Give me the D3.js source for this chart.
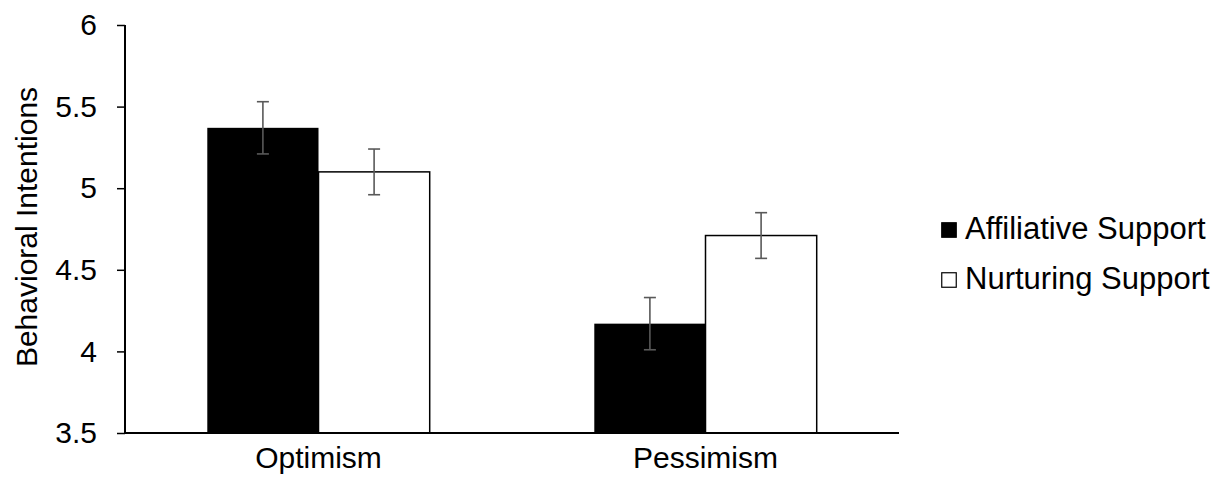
<!DOCTYPE html>
<html>
<head>
<meta charset="utf-8">
<title>Behavioral Intentions</title>
<script src="https://cdnjs.cloudflare.com/ajax/libs/d3/7.8.5/d3.min.js"></script>
<style>
    body { margin: 0; background: #fff; }
    svg text { font-family: Arial, "Liberation Sans", sans-serif; fill: #000; }
</style>
</head>
<body>
<div id="chart"></div>
<script>
    // data
    var categories = ["Optimism", "Pessimism"];
    var series = ["Affiliative Support", "Nurturing Support"];
    var affiliative = [5.37, 4.17];
    var nurturing = [5.10, 4.71];
    var affiliativeErr = [0.16, 0.16];
    var nurturingErr = [0.14, 0.14];
    var yTicks = [3.5, 4, 4.5, 5, 5.5, 6];

    var width = 1220,
        height = 484,
        plotLeft = 125, plotRight = 899, plotTop = 25, plotBottom = 433;

    var fills = { "Affiliative Support": "#000", "Nurturing Support": "#fff" };

    var rows = [];
    categories.forEach(function(c, i) {
        rows.push({ cat: c, s: series[0], v: affiliative[i], e: affiliativeErr[i] });
        rows.push({ cat: c, s: series[1], v: nurturing[i], e: nurturingErr[i] });
    });

    var svg = d3.select("#chart").append("svg")
        .attr("width", width)
        .attr("height", height);

    var x0 = d3.scaleBand().domain(categories).range([plotLeft, plotRight]);
    var x1 = d3.scaleBand().domain(series).range([0, x0.bandwidth()])
        .paddingInner(0).paddingOuter(0.74);
    var y = d3.scaleLinear().domain([3.5, 6]).range([plotBottom, plotTop]);

    // bars
    svg.selectAll("rect.bar")
        .data(rows)
        .enter().append("rect")
        .attr("class", "bar")
        .attr("x", function(d) { return x0(d.cat) + x1(d.s); })
        .attr("y", function(d) { return y(d.v); })
        .attr("width", x1.bandwidth())
        .attr("height", function(d) { return y(3.5) - y(d.v); })
        .attr("fill", function(d) { return fills[d.s]; })
        .attr("stroke", "#000")
        .attr("stroke-width", function(d) { return d.s === series[1] ? 1.5 : 0; });

    // error bars
    var cx = function(d) { return x0(d.cat) + x1(d.s) + x1.bandwidth() / 2; };
    var eb = svg.selectAll("g.err")
        .data(rows)
        .enter().append("g")
        .attr("class", "err")
        .attr("stroke", "#595959")
        .attr("stroke-width", 1.6);
    eb.append("line")
        .attr("x1", cx).attr("x2", cx)
        .attr("y1", function(d) { return y(d.v + d.e); })
        .attr("y2", function(d) { return y(d.v - d.e); });
    [1, -1].forEach(function(sign) {
        eb.append("line")
            .attr("x1", function(d) { return cx(d) - 6; })
            .attr("x2", function(d) { return cx(d) + 6; })
            .attr("y1", function(d) { return y(d.v + sign * d.e); })
            .attr("y2", function(d) { return y(d.v + sign * d.e); });
    });

    // y axis
    var yAxis = svg.append("g")
        .attr("transform", "translate(" + plotLeft + ",0)")
        .call(d3.axisLeft(y).tickValues(yTicks).tickSize(8).tickPadding(20)
            .tickFormat(function(d) { return d; }));
    yAxis.select(".domain").remove();
    yAxis.selectAll(".tick line").attr("stroke", "#000").attr("stroke-width", 1.5);
    yAxis.selectAll(".tick text").style("font-size", "30px");
    yAxis.append("line")
        .attr("x1", 0).attr("x2", 0)
        .attr("y1", plotTop).attr("y2", plotBottom)
        .attr("stroke", "#000").attr("stroke-width", 2);

    // x axis
    var xAxis = svg.append("g")
        .attr("transform", "translate(0," + plotBottom + ")")
        .call(d3.axisBottom(x0).tickSize(0).tickPadding(14));
    xAxis.select(".domain").remove();
    xAxis.append("line")
        .attr("x1", plotLeft - 1).attr("x2", plotRight)
        .attr("stroke", "#000").attr("stroke-width", 2.2);
    xAxis.selectAll(".tick text").style("font-size", "30px");

    // axis title
    svg.append("text")
        .attr("transform", "translate(37," + ((plotTop + plotBottom) / 2 - 2) + ") rotate(-90)")
        .attr("text-anchor", "middle")
        .style("font-size", "30px")
        .text("Behavioral Intentions");

    // legend
    var legend = svg.selectAll("g.legend")
        .data(series)
        .enter().append("g")
        .attr("class", "legend")
        .attr("transform", function(d, i) { return "translate(941," + (230 + i * 50) + ")"; });
    legend.append("rect")
        .attr("x", 0.75).attr("y", -7.25)
        .attr("width", 14.5).attr("height", 14.5)
        .attr("fill", function(d) { return fills[d]; })
        .attr("stroke", "#000").attr("stroke-width", 1.2);
    legend.append("text")
        .attr("x", 24)
        .attr("y", 9)
        .style("font-size", "31px")
        .text(function(d) { return d; });
</script>
</body>
</html>
